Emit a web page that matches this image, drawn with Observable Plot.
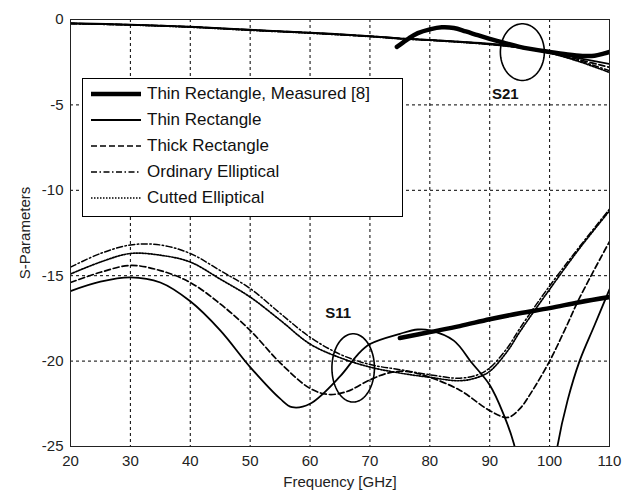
<!DOCTYPE html>
<html>
<head>
<meta charset="utf-8">
<script src="https://cdn.jsdelivr.net/npm/d3@7"></script>
<script src="https://cdn.jsdelivr.net/npm/@observablehq/plot@0.6"></script>
<style>
  html, body { margin: 0; padding: 0; background: #fff; }
  #wrap { position: relative; width: 630px; height: 497px; font-family: "Liberation Sans", Arial, sans-serif; }
  #legend { position: absolute; left: 82px; top: 78px; width: 319px; height: 135px; border: 1px solid #000; background: #fff; box-sizing: content-box; padding-top: 2px; }
  .row { height: 26px; display: flex; align-items: center; font-size: 17px; color: #111; }
  .row svg { margin-left: 8px; margin-right: 6px; }
</style>
</head>
<body>
<div id="wrap"><div id="legend"></div></div>
<script>
// ---- data ----
const seriesNames = ["Thin Rectangle, Measured [8]", "Thin Rectangle", "Thick Rectangle", "Ordinary Elliptical", "Cutted Elliptical"];
const xTicks = [20, 30, 40, 50, 60, 70, 80, 90, 100, 110];
const yTicks = [0, -5, -10, -15, -20, -25];

// S21 curves [GHz, dB]
const s21Measured = [[74.5,-1.6],[75.5,-1.35],[76.5,-1.1],[78,-0.8],[80,-0.58],[82,-0.46],[84,-0.5],[86,-0.7],[88,-0.92],[90,-1.13],[92,-1.33],[95,-1.6],[100,-1.9],[103,-2.05],[105.5,-2.13],[107.5,-2.12],[109,-2.0],[110,-1.9]];
const s21Thin     = [[20,-0.22],[30,-0.3],[40,-0.42],[50,-0.6],[60,-0.77],[70,-0.97],[75,-1.1],[80,-1.19],[85,-1.3],[90,-1.42],[95,-1.6],[100,-1.88],[105,-2.28],[110,-2.6]];
const s21Thick    = [[20,-0.23],[30,-0.31],[40,-0.43],[50,-0.61],[60,-0.78],[70,-0.98],[75,-1.11],[80,-1.2],[85,-1.31],[90,-1.44],[95,-1.63],[100,-1.92],[105,-2.36],[110,-2.8]];
const s21Ordinary = [[20,-0.24],[30,-0.32],[40,-0.44],[50,-0.62],[60,-0.79],[70,-0.99],[75,-1.12],[80,-1.21],[85,-1.32],[90,-1.45],[95,-1.65],[100,-1.95],[105,-2.42],[110,-3.0]];
const s21Cutted   = [[20,-0.24],[30,-0.32],[40,-0.45],[50,-0.63],[60,-0.8],[70,-1.0],[75,-1.13],[80,-1.22],[85,-1.33],[90,-1.46],[95,-1.66],[100,-1.97],[105,-2.47],[110,-3.1]];

// S11 curves [GHz, dB]
const s11Measured = [[75,-18.65],[80,-18.3],[85,-17.95],[90,-17.55],[95,-17.2],[100,-16.9],[105,-16.55],[110,-16.25]];
const s11Thin     = [[20,-15.9],[25,-15.35],[30,-15.1],[35,-15.4],[40,-16.5],[45,-18.2],[50,-20.35],[55,-22.2],[57,-22.7],[60,-22.5],[65,-20.9],[68,-19.6],[70,-19.0],[75,-18.4],[78,-18.15],[80,-18.2],[84,-18.8],[87,-20.1],[90,-21.4],[92.3,-23.1],[94,-24.8],[96,-28],[98,-31],[100,-28.5],[101.3,-25.0],[103,-22.3],[105,-20.0],[107.5,-17.9],[110,-15.8]];
const s11Thick    = [[20,-15.4],[25,-14.8],[30,-14.4],[35,-14.7],[40,-15.4],[45,-16.65],[50,-18.2],[55,-20.1],[60,-21.6],[63,-21.95],[66,-21.8],[70,-21.1],[73,-20.7],[76,-20.6],[80,-20.95],[85,-21.7],[90,-22.9],[93,-23.3],[95,-22.8],[97,-21.8],[100,-20.0],[102.5,-18.2],[105,-16.3],[110,-13.0]];
const s11Ordinary = [[20,-14.5],[25,-13.7],[30,-13.2],[35,-13.2],[40,-13.7],[45,-14.7],[50,-15.75],[55,-17.2],[60,-18.6],[65,-19.6],[70,-20.2],[75,-20.5],[80,-20.8],[85,-21.0],[88,-20.8],[90,-20.4],[93,-19.2],[95,-18.1],[100,-15.6],[105,-13.3],[110,-11.1]];
const s11Cutted   = [[20,-14.9],[25,-14.2],[30,-13.7],[35,-13.8],[40,-14.2],[45,-15.2],[50,-16.25],[55,-17.6],[60,-19.0],[65,-19.8],[70,-20.35],[75,-20.7],[80,-20.95],[85,-21.15],[88,-20.95],[90,-20.6],[93,-19.4],[95,-18.3],[100,-15.8],[105,-13.4],[110,-11.2]];

// annotation ellipses and labels
const ellipses = [{cx: 95.45, cy: -1.91, rx: 3.67, ry: 1.66}, {cx: 67.2, cy: -20.4, rx: 3.55, ry: 2.0}];
const notes = [{x: 92.6, y: -4.4, text: "S21"}, {x: 64.7, y: -17.2, text: "S11"}];

// ---- styles ----
const styles = [
  {w: 4.5, dash: null},
  {w: 1.8, dash: null},
  {w: 1.7, dash: "6,3"},
  {w: 1.5, dash: "6,2.5,1.5,2.5"},
  {w: 1.7, dash: "1.5,1.5"}
];
const s21Sets = [s21Measured, s21Thin, s21Thick, s21Ordinary, s21Cutted];
const s11Sets = [s11Measured, s11Thin, s11Thick, s11Ordinary, s11Cutted];

const ellipsePts = ellipses.map(e => d3.range(0, 361, 4).map(a => [e.cx + e.rx * Math.cos(a * Math.PI / 180), e.cy + e.ry * Math.sin(a * Math.PI / 180)]));

const lineMarks = [];
[s21Sets, s11Sets].forEach(sets => {
  // draw measured last so it stays on top
  [1, 2, 3, 4, 0].forEach(i => {
    lineMarks.push(Plot.line(sets[i], {x: d => d[0], y: d => d[1], stroke: "#000", strokeWidth: styles[i].w, strokeDasharray: styles[i].dash, clip: true, curve: "catmull-rom"}));
  });
});

const chart = Plot.plot({
  width: 630,
  height: 497,
  marginLeft: 70,
  marginRight: 21,
  marginTop: 19,
  marginBottom: 51,
  style: {fontFamily: "Liberation Sans, Arial, sans-serif", fontSize: "15px", color: "#222", background: "transparent"},
  x: {domain: [20, 110]},
  y: {domain: [-25, 0]},
  marks: [
    Plot.gridX(xTicks.slice(1, -1), {stroke: "#000", strokeOpacity: 1, strokeDasharray: "3,3", strokeWidth: 1}),
    Plot.gridY(yTicks.slice(1, -1), {stroke: "#000", strokeOpacity: 1, strokeDasharray: "3,3", strokeWidth: 1}),
    ...lineMarks,
    ...ellipsePts.map(p => Plot.line(p, {x: d => d[0], y: d => d[1], stroke: "#000", strokeWidth: 1.6, curve: "linear-closed"})),
    Plot.text(notes, {x: "x", y: "y", text: "text", fontWeight: "bold", fontSize: 15, fill: "#111"}),
    Plot.frame({stroke: "#222", strokeWidth: 1}),
    Plot.axisX(xTicks, {tickSize: 0, tickPadding: 9, fontSize: 15, tickFormat: d => String(d), label: "Frequency [GHz]", labelAnchor: "center", labelOffset: 40, labelArrow: "none"}),
    Plot.axisY(yTicks, {tickSize: 0, tickPadding: 7, fontSize: 15, tickFormat: d => String(d), label: "S-Parameters", labelAnchor: "center", labelOffset: 51, labelArrow: "none"})
  ]
});
document.getElementById("wrap").prepend(chart);

// ---- legend ----
const legend = document.getElementById("legend");
seriesNames.forEach((name, i) => {
  const row = document.createElement("div");
  row.className = "row";
  const ns = "http://www.w3.org/2000/svg";
  const svg = document.createElementNS(ns, "svg");
  svg.setAttribute("width", 50); svg.setAttribute("height", 10);
  const ln = document.createElementNS(ns, "line");
  ln.setAttribute("x1", 0); ln.setAttribute("x2", 50); ln.setAttribute("y1", 5); ln.setAttribute("y2", 5);
  ln.setAttribute("stroke", "#000"); ln.setAttribute("stroke-width", styles[i].w);
  if (styles[i].dash) ln.setAttribute("stroke-dasharray", styles[i].dash);
  svg.appendChild(ln);
  row.appendChild(svg);
  const t = document.createElement("span"); t.textContent = name;
  row.appendChild(t);
  legend.appendChild(row);
});
</script>
</body>
</html>
